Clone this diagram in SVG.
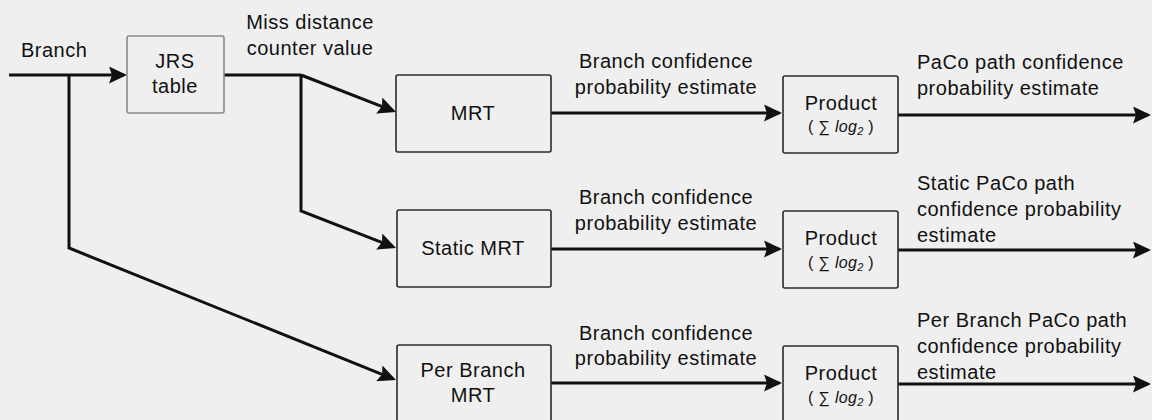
<svg xmlns="http://www.w3.org/2000/svg" width="1152" height="420" viewBox="0 0 1152 420">
<style>
text{font-family:"Liberation Sans",Arial,sans-serif;font-size:20px;fill:#111;letter-spacing:0.5px}
.c{text-anchor:middle}
.sub{font-size:16px;letter-spacing:0.3px}
.box{fill:none;stroke:#2a2a2a;stroke-width:1.6}
.gbox{fill:none;stroke:#8a8a8a;stroke-width:1.6}
.ln{fill:none;stroke:#111;stroke-width:3;marker-end:url(#ah)}
.pl{fill:none;stroke:#111;stroke-width:3}
</style>
<defs>
<marker id="ah" markerUnits="userSpaceOnUse" markerWidth="18" markerHeight="17" refX="15" refY="8.5" orient="auto">
<path d="M0,0 L18,8.5 L0,17 L3,8.5 Z" fill="#111"/>
</marker>
</defs>
<rect width="1152" height="420" fill="#efefef"/>

<g id="connectors">
<path class="ln" d="M9,75 L124,75"/>
<path class="pl" d="M224,75 L301,75"/>
<path class="ln" d="M301,75 L393.2,110.9"/>
<path class="ln" d="M301,75 L301,211 L393.2,246.9"/>
<path class="ln" d="M69,75 L69,248 L393.2,378.9"/>
<path class="ln" d="M551,113 L779,113"/>
<path class="ln" d="M551,249 L779,249"/>
<path class="ln" d="M551,383 L779,383"/>
<path class="ln" d="M898,115 L1148,115"/>
<path class="ln" d="M898,250 L1148,250"/>
<path class="ln" d="M898,384 L1148,384"/>
</g>

<g id="labels">
<text x="21" y="57">Branch</text>
<text class="c" x="310" y="29">Miss distance</text>
<text class="c" x="310" y="55">counter value</text>
<text class="c" x="666" y="68">Branch confidence</text>
<text class="c" x="666" y="94">probability estimate</text>
<text class="c" x="666" y="204">Branch confidence</text>
<text class="c" x="666" y="230">probability estimate</text>
<text class="c" x="666" y="340">Branch confidence</text>
<text class="c" x="666" y="365">probability estimate</text>
<text x="917" y="69">PaCo path confidence</text>
<text x="917" y="95">probability estimate</text>
<text x="917" y="190">Static PaCo path</text>
<text x="917" y="216">confidence probability</text>
<text x="917" y="242">estimate</text>
<text x="917" y="327">Per Branch PaCo path</text>
<text x="917" y="353">confidence probability</text>
<text x="917" y="379">estimate</text>
</g>

<g id="jrs">
<rect class="gbox" x="127" y="36" width="97" height="77" rx="2"/>
<text class="c" x="175" y="68">JRS</text>
<text class="c" x="175" y="93">table</text>
</g>

<g id="mrt">
<rect class="box" x="396" y="75" width="155" height="77" rx="2"/>
<text class="c" x="473" y="120">MRT</text>
</g>

<g id="static-mrt">
<rect class="box" x="397" y="210" width="154" height="77" rx="2"/>
<text class="c" x="473" y="255">Static MRT</text>
</g>

<g id="perbranch-mrt">
<rect class="box" x="397" y="345" width="154" height="80" rx="2"/>
<text class="c" x="473" y="377">Per Branch</text>
<text class="c" x="473" y="402">MRT</text>
</g>

<g id="product1">
<rect class="box" x="783" y="76" width="115" height="77" rx="2"/>
<text class="c" x="841" y="110">Product</text>
<text class="c sub" x="841" y="132">( ∑ <tspan font-style="italic">log</tspan><tspan font-style="italic" font-size="11" dy="3">2</tspan><tspan dy="-3"> )</tspan></text>
</g>

<g id="product2">
<rect class="box" x="783" y="211" width="115" height="77" rx="2"/>
<text class="c" x="841" y="245">Product</text>
<text class="c sub" x="841" y="268">( ∑ <tspan font-style="italic">log</tspan><tspan font-style="italic" font-size="11" dy="3">2</tspan><tspan dy="-3"> )</tspan></text>
</g>

<g id="product3">
<rect class="box" x="783" y="346" width="115" height="80" rx="2"/>
<text class="c" x="841" y="380">Product</text>
<text class="c sub" x="841" y="403">( ∑ <tspan font-style="italic">log</tspan><tspan font-style="italic" font-size="11" dy="3">2</tspan><tspan dy="-3"> )</tspan></text>
</g>
</svg>
